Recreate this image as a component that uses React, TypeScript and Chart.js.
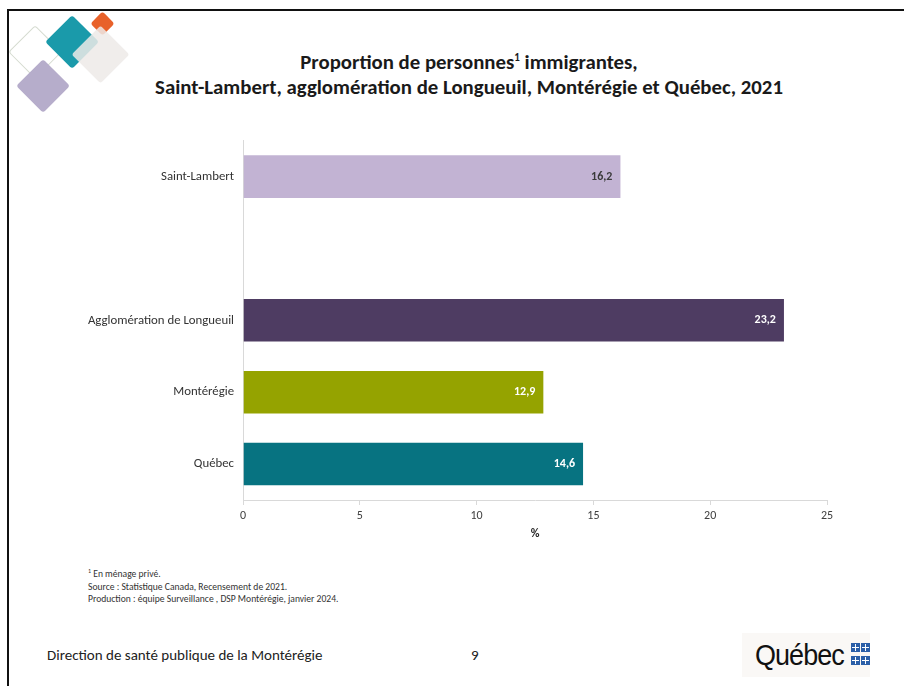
import React, { useEffect, useRef } from "react";
import { Chart, registerables } from "chart.js";

Chart.register(...registerables);

const categories = ["Saint-Lambert", "", "Agglomération de Longueuil", "Montérégie", "Québec"];
const values: (number | null)[] = [16.2, null, 23.2, 12.9, 14.6];
const valueLabels = ["16,2", "", "23,2", "12,9", "14,6"];
const barColors = ["#C2B3D3", "rgba(0,0,0,0)", "#4E3C62", "#95A300", "#077381"];
const labelColors = ["#3A3A3A", "#FFFFFF", "#FFFFFF", "#FFFFFF", "#FFFFFF"];
const xTicks = [0, 5, 10, 15, 20, 25];

const FONT = "Carlito, Lato, sans-serif";

const CANVAS_LEFT = 40;
const CANVAS_TOP = 132;
const CANVAS_W = 820;
const CANVAS_H = 409;

const labelPlugin = {
  id: "valueLabels",
  afterDatasetsDraw(chart: any) {
    const ctx = chart.ctx;
    const meta = chart.getDatasetMeta(0);
    ctx.save();
    ctx.font = `bold 12px ${FONT}`;
    ctx.textAlign = "right";
    ctx.textBaseline = "middle";
    meta.data.forEach((bar: any, i: number) => {
      if (values[i] == null) return;
      ctx.fillStyle = labelColors[i];
      ctx.fillText(valueLabels[i], bar.x - 9, bar.y);
    });
    ctx.restore();
  },
};

function Diamond(props: { cx: number; cy: number; half: number; color: string; border?: string; opacity?: number }) {
  const side = props.half * Math.SQRT2;
  return (
    <div
      style={{
        position: "absolute",
        left: props.cx - side / 2,
        top: props.cy - side / 2,
        width: side,
        height: side,
        background: props.color,
        border: props.border,
        boxSizing: "border-box",
        borderRadius: 3,
        opacity: props.opacity ?? 1,
        transform: "rotate(45deg)",
      }}
    />
  );
}

function Flag(props: { x: number; y: number }) {
  return (
    <div style={{ position: "absolute", left: props.x, top: props.y, width: 9, height: 9, background: "#2B5FA8" }}>
      <div style={{ position: "absolute", left: 4, top: 1, width: 1, height: 7, background: "#fff" }} />
      <div style={{ position: "absolute", left: 1, top: 4, width: 7, height: 1, background: "#fff" }} />
    </div>
  );
}

export default function App() {
  const ref = useRef<HTMLCanvasElement>(null);

  useEffect(() => {
    if (!ref.current) return;
    const chart = new Chart(ref.current, {
      type: "bar",
      data: {
        labels: categories,
        datasets: [
          {
            data: values as any,
            backgroundColor: barColors,
            borderColor: "rgba(255,255,255,0.35)",
            borderWidth: 1,
            barPercentage: 0.62,
            categoryPercentage: 1,
          },
        ],
      },
      options: {
        indexAxis: "y",
        animation: false,
        responsive: false,
        maintainAspectRatio: false,
        layout: { padding: { top: 3, right: 33, left: 0, bottom: 0 } },
        plugins: { legend: { display: false }, tooltip: { enabled: false } },
        scales: {
          x: {
            min: 0,
            max: 25,
            afterBuildTicks: (scale: any) => {
              scale.ticks = xTicks.map((v) => ({ value: v }));
            },
            afterFit: (scale: any) => {
              scale.height = 41;
            },
            grid: { display: true, drawOnChartArea: false, drawTicks: true, tickLength: 5, color: "#D9D9D9" },
            border: { display: true, color: "#D9D9D9", width: 1 },
            ticks: { color: "#404040", font: { family: FONT, size: 12 }, padding: 4 },
            title: {
              display: true,
              text: "%",
              color: "#262626",
              font: { family: FONT, size: 12, weight: "bold" },
              padding: { top: 2, bottom: 0 },
            },
          },
          y: {
            afterFit: (scale: any) => {
              scale.width = 243 - CANVAS_LEFT;
            },
            grid: { display: false },
            border: { display: true, color: "#D9D9D9", width: 1 },
            ticks: { color: "#333333", font: { family: FONT, size: 12.8 }, padding: 1 },
          },
        },
      },
      plugins: [labelPlugin],
    } as any);
    return () => chart.destroy();
  }, []);

  return (
    <div style={{ position: "absolute", left: 0, top: 0, width: 904, height: 686, background: "#fff", overflow: "hidden", fontFamily: FONT }}>
      <div style={{ position: "absolute", left: 7, top: 9, width: 904, height: 2, background: "#111" }} />
      <div style={{ position: "absolute", left: 7, top: 9, width: 2, height: 690, background: "#111" }} />

      <Diamond cx={35} cy={52} half={27} color="transparent" border="1.5px solid #D5DBD0" />
      <Diamond cx={43} cy={86} half={27} color="#B6ADCB" />
      <Diamond cx={72} cy={42} half={27} color="#1A9AAA" />
      <Diamond cx={102} cy={23} half={12} color="#E8612A" />
      <Diamond cx={101} cy={55} half={29} color="#EDEAE8" opacity={0.85} />

      <div style={{ position: "absolute", left: 0, width: 904, top: 50, textAlign: "center", fontWeight: "bold", fontSize: 20.8, lineHeight: "25px", color: "#1a1a1a", paddingLeft: 34, boxSizing: "border-box", whiteSpace: "nowrap" }}>
        Proportion de personnes<sup style={{ fontSize: 11, verticalAlign: "super", lineHeight: 0 }}>1</sup> immigrantes,
        <br />
        Saint-Lambert, agglomération de Longueuil, Montérégie et Québec, 2021
      </div>

      <canvas ref={ref} width={CANVAS_W} height={CANVAS_H} style={{ position: "absolute", left: CANVAS_LEFT, top: CANVAS_TOP, width: CANVAS_W, height: CANVAS_H }} />

      <div style={{ position: "absolute", left: 88, top: 568, fontSize: 9.6, lineHeight: "12.5px", color: "#333" }}>
        <div><sup style={{ fontSize: 6, lineHeight: 0 }}>1</sup> En ménage privé.</div>
        <div>Source : Statistique Canada, Recensement de 2021.</div>
        <div>Production : équipe Surveillance , DSP Montérégie, janvier 2024.</div>
      </div>

      <div style={{ position: "absolute", left: 47, top: 646, fontSize: 15, color: "#222" }}>Direction de santé publique de la Montérégie</div>
      <div style={{ position: "absolute", left: 471, top: 646, fontSize: 15, color: "#222" }}>9</div>

      <div style={{ position: "absolute", left: 742, top: 633, width: 128, height: 44, background: "#FAF8F6" }} />
      <div style={{ position: "absolute", left: 755, top: 637, fontSize: 29, fontFamily: "'Liberation Sans', Arial, sans-serif", letterSpacing: -1, color: "#111", lineHeight: "36px", transform: "scaleX(0.93)", transformOrigin: "left center" }}>Québec</div>
      <Flag x={851} y={643} />
      <Flag x={861} y={643} />
      <Flag x={851} y={656} />
      <Flag x={861} y={656} />
    </div>
  );
}
